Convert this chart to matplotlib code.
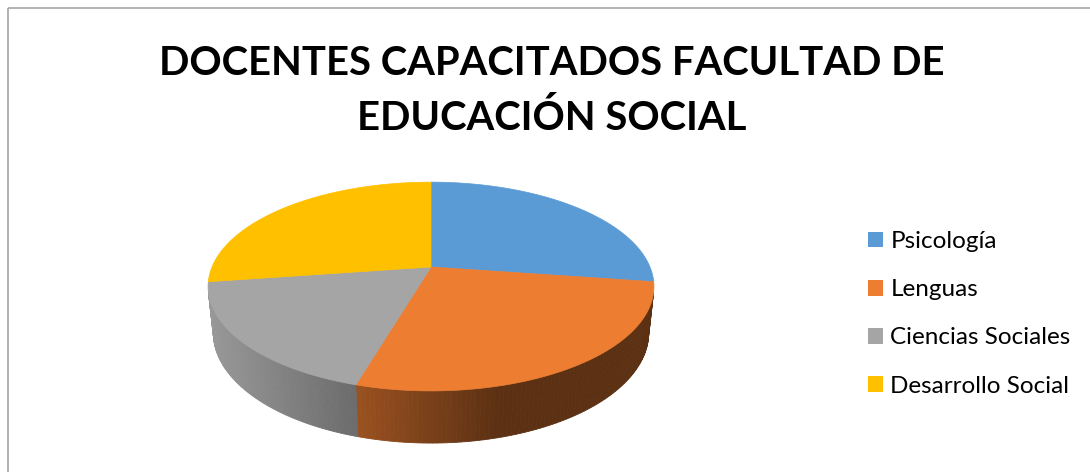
import numpy as np
import matplotlib
matplotlib.use("Agg")
import matplotlib.pyplot as plt
from matplotlib.patches import Patch, Rectangle

# Chart data
title = "DOCENTES CAPACITADOS FACULTAD DE\nEDUCACIÓN SOCIAL"
labels = ["Psicología", "Lenguas", "Ciencias Sociales", "Desarrollo Social"]
values = [3, 3, 2, 3]
colors = ["#5B9BD5", "#ED7D31", "#A5A5A5", "#FFC000"]

W, H = 1090, 472

# Perspective camera for the 3D pie (screen pixel units)
CX, CY = 431, 267      # where the pie centre lands
K = 219                # overall scale
PA, PB = 0.187, 0.097  # perspective strength (depth / height)
SIN_E, COS_E = 0.46, 0.888
THICK = 0.239          # slab thickness, in pie radii
CAM_D = COS_E * (COS_E / PA)


def project(theta, z):
    # theta: degrees clockwise from 12 o'clock, z: height (0 = top face)
    t = np.radians(theta)
    x, y = np.sin(t), np.cos(t)
    w = 1 + PA * y - PB * z
    return CX + K * x / w, CY - K * (SIN_E * y + COS_E * z) / w


def shade(px):
    # side lighting: bright on the left, dark on the right
    return np.clip(0.92 - (px - 210) * 0.00185, 0.39, 1.0)


def main():
    fig = plt.figure(figsize=(W / 100, H / 100), dpi=100)
    ax = fig.add_axes([0, 0, 1, 1])
    ax.set_xlim(0, W)
    ax.set_ylim(H, 0)
    ax.axis("off")

    # chart area border
    ax.add_patch(Rectangle((7.5, 7.5), W + 20, H + 20, fill=False,
                           edgecolor="#A6A6A6", linewidth=1.2))

    fracs = np.array(values, dtype=float) / sum(values)
    edges = np.concatenate([[0], np.cumsum(fracs) * 360])

    # visible part of the outer wall
    lim = np.degrees(np.arccos(-1 / CAM_D))
    vis0, vis1 = lim, 360 - lim

    # side walls first
    for i in range(len(values)):
        t0, t1 = max(edges[i], vis0), min(edges[i + 1], vis1)
        if t1 <= t0:
            continue
        base = np.array(matplotlib.colors.to_rgb(colors[i]))
        ts = np.linspace(t0, t1, 90)
        for a, b in zip(ts[:-1], ts[1:]):
            xa, ya = project(a, 0)
            xb, yb = project(b, 0)
            xc, yc = project(b, -THICK)
            xd, yd = project(a, -THICK)
            col = base * shade((xa + xb) / 2)
            ax.fill([xa, xb, xc, xd], [ya, yb, yc, yd], color=col,
                    linewidth=0.6, edgecolor=col)

    # top faces
    for i in range(len(values)):
        ts = np.linspace(edges[i], edges[i + 1], 200)
        px, py = project(ts, 0)
        px = np.concatenate([[CX], px])
        py = np.concatenate([[CY], py])
        ax.fill(px, py, color=colors[i], linewidth=0.5, edgecolor=colors[i])

    ax.text(552, 91, title, ha="center", va="center", fontsize=28.8,
            fontweight="bold", family="Lato", linespacing=1.55)

    handles = [Patch(facecolor=c, edgecolor="none") for c in colors]
    ax.legend(handles, labels, loc="upper left", bbox_to_anchor=(868, 231),
              bbox_transform=ax.transData, frameon=False,
              prop={"family": "Lato", "size": 17.5},
              handlelength=0.62, handleheight=0.62, handletextpad=0.3,
              labelspacing=1.12, borderpad=0, borderaxespad=0)

    fig.savefig("out.png", dpi=100)
    plt.close(fig)


if __name__ == "__main__":
    main()
